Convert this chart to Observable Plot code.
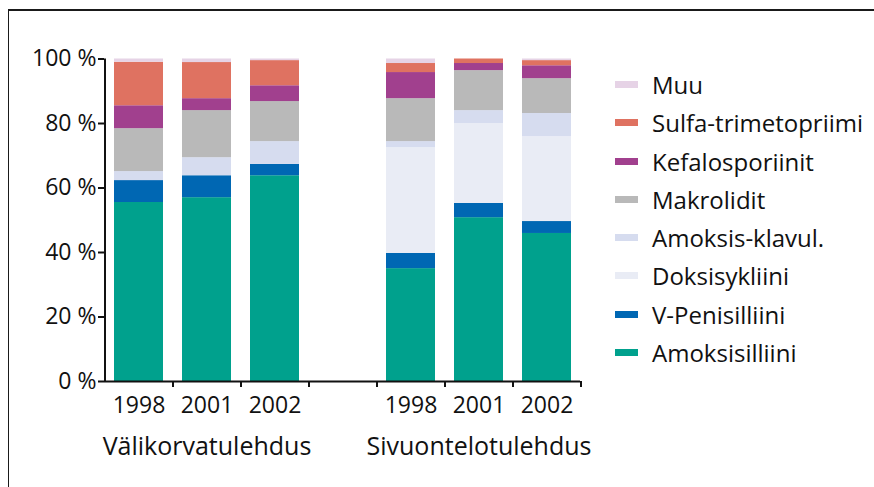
<!DOCTYPE html>
<html><head><meta charset="utf-8">
<script src="https://cdn.jsdelivr.net/npm/d3@7"></script>
<script src="https://cdn.jsdelivr.net/npm/@observablehq/plot@0.6"></script>
<style>
html,body{margin:0;padding:0;background:#fff;}
#wrap{position:relative;width:874px;height:487px;overflow:hidden;font-family:"Open Sans",sans-serif;color:#111;}
#border{position:absolute;left:8px;top:9px;width:900px;height:500px;border-top:2px solid #1a1a1a;border-left:1.5px solid #1a1a1a;}
#chart{position:absolute;left:0;top:0;}
#legend{position:absolute;left:615px;top:65.35px;}
.row{display:flex;align-items:center;height:38.3px;font-size:24px;white-space:nowrap;}
.sw{width:23px;height:7px;margin-right:14px;flex:none;}
</style></head><body>
<div id="wrap"><div id="border"></div><div id="chart"></div><div id="legend"></div></div>
<script>
// Categories (x slots); "gap" is the empty slot between the two groups
const categories = ["V1998","V2001","V2002","gap","S1998","S2001","S2002"];
const barCategories = ["V1998","V2001","V2002","S1998","S2001","S2002"];
const yearLabels = ["1998","2001","2002","","1998","2001","2002"];
const groupNames = ["Välikorvatulehdus","Sivuontelotulehdus"];
const groupCenters = ["V2001","S2001"];
const yTicks = [0,20,40,60,80,100];

// Series, bottom to top of each stack
const seriesNames = ["Amoksisilliini","V-Penisilliini","Doksisykliini","Amoksis-klavul.","Makrolidit","Kefalosporiinit","Sulfa-trimetopriimi","Muu"];
// Values (%) per bar, in barCategories order
const amoksisilliini   = [55.5, 57.0, 63.8, 35.0, 50.8, 45.9];
const vPenisilliini    = [ 6.8,  6.8,  3.5,  4.7,  4.4,  3.7];
const doksisykliini    = [ 0.0,  0.0,  0.0, 32.8, 24.8, 26.3];
const amoksisKlavul    = [ 2.8,  5.6,  7.1,  1.9,  4.0,  7.2];
const makrolidit       = [13.3, 14.6, 12.4, 13.3, 12.4, 10.8];
const kefalosporiinit  = [ 7.1,  3.7,  4.9,  8.1,  2.2,  4.0];
const sulfaTrimetop    = [13.5, 11.2,  7.8,  2.8,  1.4,  1.6];
const muu              = [ 1.0,  1.1,  0.5,  1.4,  0.0,  0.5];
const seriesValues = [amoksisilliini, vPenisilliini, doksisykliini, amoksisKlavul, makrolidit, kefalosporiinit, sulfaTrimetop, muu];
const colors = ["#00a18d","#0067b3","#e9ecf5","#d6dcef","#b9b9b9","#a1408e","#df7261","#e6d3e6"];

const data = [];
seriesNames.forEach((s, si) => {
  barCategories.forEach((c, ci) => data.push({cat: c, series: s, value: seriesValues[si][ci]}));
});

const W = 874, H = 487, mL = 104, mR = 294, mT = 58.5, mB = 106;
const halfStep = (W - mL - mR) / categories.length / 2;

const plot = Plot.plot({
  width: W, height: H,
  marginLeft: mL, marginRight: mR, marginTop: mT, marginBottom: mB,
  style: {fontFamily: '"Open Sans", sans-serif', fontSize: "23px", color: "#111", background: "transparent", overflow: "visible"},
  x: {domain: categories, paddingInner: 0.28, paddingOuter: 0.14, axis: null},
  y: {domain: [0, 100], axis: null},
  color: {domain: seriesNames, range: colors},
  marks: [
    Plot.barY(data, {x: "cat", y: "value", fill: "series", order: seriesNames}),
    Plot.ruleY([0], {stroke: "#111", strokeWidth: 2}),
    Plot.ruleX([categories[0]], {dx: -halfStep, y1: 0, y2: 100, stroke: "#111", strokeWidth: 2}),
    Plot.ruleX(categories, {dx: halfStep, y1: 0, y2: 0, insetBottom: -6, stroke: "#111", strokeWidth: 2}),
    Plot.axisY({ticks: yTicks, tickFormat: d => d + " %", tickSize: 6, tickPadding: 2, strokeWidth: 2, fontSize: 23, label: null}),
    Plot.axisX({ticks: barCategories, tickFormat: d => yearLabels[categories.indexOf(d)], tickSize: 0, tickPadding: 15, fontSize: 23, label: null}),
    Plot.text(groupNames, {x: (d, i) => groupCenters[i], text: d => d, frameAnchor: "bottom", dy: 73, fontSize: 25, fill: "#111"})
  ]
});
document.getElementById("chart").appendChild(plot);

const legend = document.getElementById("legend");
for (let i = seriesNames.length - 1; i >= 0; i--) {
  const row = document.createElement("div");
  row.className = "row";
  const sw = document.createElement("span");
  sw.className = "sw";
  sw.style.background = colors[i];
  const t = document.createElement("span");
  t.textContent = seriesNames[i];
  row.appendChild(sw); row.appendChild(t);
  legend.appendChild(row);
}
</script>
</body></html>
